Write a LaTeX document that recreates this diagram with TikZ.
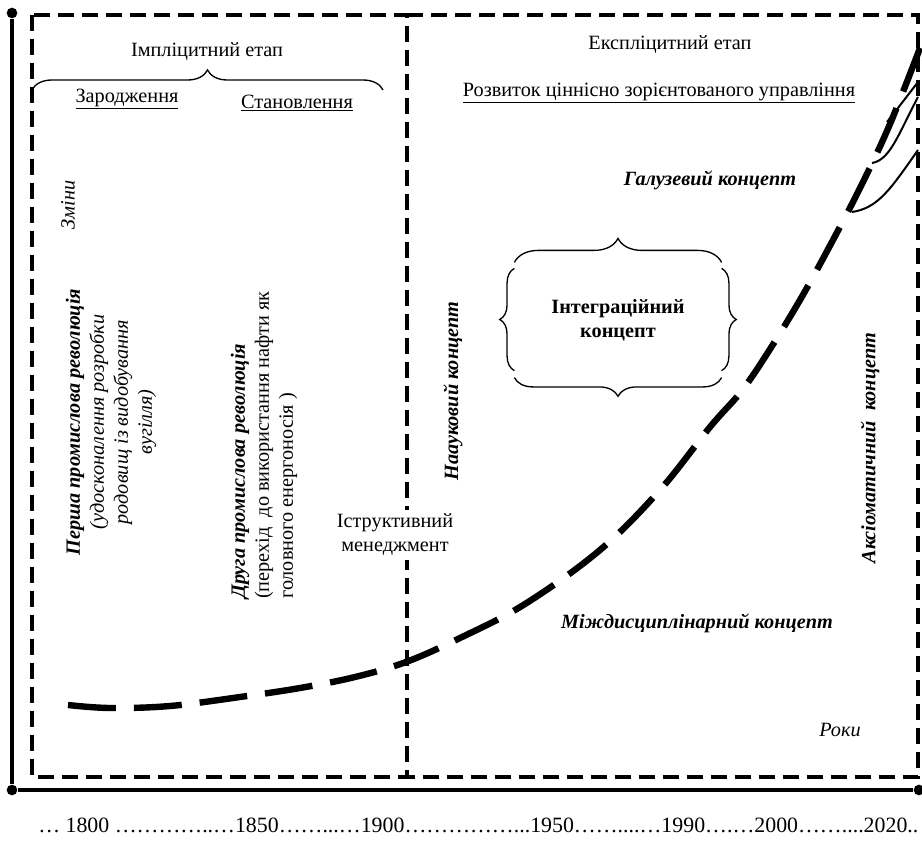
\documentclass[tikz,border=0pt]{standalone}
\usepackage{fontspec}
\setmainfont{Liberation Serif}
\usetikzlibrary{positioning,calc,decorations.pathreplacing}

\begin{document}
\begin{tikzpicture}[
    x=0.75pt, y=-0.75pt,
    font=\fontsize{15.2}{18}\selectfont,
    dot/.style={
        circle, fill=black, inner sep=0pt, minimum size=8pt
    },
    axis/.style={
        line width=3pt
    },
    stage/.style={
        line width=2.6pt, dash pattern=on 12pt off 6pt
    },
    trend/.style={
        line width=4.8pt, dash pattern=on 36pt off 13.5pt
    },
    concept/.style={
        font=\fontsize{15.2}{18}\selectfont\bfseries\itshape
    },
    note/.style={
        font=\fontsize{15.2}{18}\selectfont\itshape
    },
    curly/.style={
        decorate, decoration={brace, amplitude=#1}, line width=1pt
    },
    curly/.default=12pt,
    spur/.style={
        line width=1.5pt
    }
]
    \useasboundingbox (0,0) rectangle (922,845);

    % axes
    \node (ytop) [dot] at (12,13) {};
    \node (orig) [dot] at (12,790) {};
    \node (xend) [dot] at (919,790) {};
    \draw [axis] (ytop) -- (orig) -- (xend);

    % stages
    \draw [stage] (32,15) rectangle (407,777);
    \draw [stage] (407,15) -- (918,15) -- (918,777) -- (407,777);

    \node (impl) at (207,52) { Імпліцитний етап };
    \draw [curly=15pt] (32,90) -- (383,90);
    \node (zar) at (127,99) { \underline{Зародження} };
    \node (stan) at (297,103) { \underline{Становлення} };

    \node (expl) at (670,45) { Експліцитний етап };
    \node (rozv) at (659,93) { \underline{Розвиток ціннісно зорієнтованого управління} };

    \node (zminy) [note, rotate=90] at (68,205) { Зміни };
    \node (persha) [rotate=90, align=center] at (111,422) {
        \textbf{\textit{Перша промислова революція}}\\
        \textit{(удосконалення розробки}\\
        \textit{родовищ із видобування}\\
        \textit{вугілля)} };
    \node (druha) [rotate=90, align=left] at (264,445) {
        \textbf{\textit{Друга промислова революція}}\\
        (перехід\ \ до використання нафти як\\
        головного енергоносія ) };
    \node (istr) [fill=white, align=center] at (395,535) { Іструктивний\\менеджмент };

    \node (nauk) [concept, rotate=90] at (453,391) { Наауковий концепт };
    \node (integ) [minimum width=155pt, minimum height=86pt, align=center,
        font=\fontsize{15.2}{18}\selectfont\bfseries] at (618,320) { Інтеграційний\\концепт };
    \draw [curly=18pt] (integ.north west) -- (integ.north east);
    \draw [curly=14pt] (integ.south east) -- (integ.south west);
    \draw [curly=11pt] ($(integ.south west)+(0,-7)$) -- ($(integ.north west)+(0,6)$);
    \draw [curly=11pt] ($(integ.north east)+(0,6)$) -- ($(integ.south east)+(0,-7)$);

    \node (haluz) [concept] at (710,180) { Галузевий концепт };
    \node (aks) [concept, rotate=90] at (870,448) { Аксіоматичний\ \ концепт };
    \node (mizh) [concept] at (697,623) { Міждисциплінарний концепт };
    \node (roky) [note] at (840,730) { Роки };

    % trend
    \draw [trend] plot [smooth, tension=0.6] coordinates {
        (68,705) (110,708) (170,706) (240,697) (300,688) (355,677) (406,662)
        (460,638) (525,604) (600,550) (660,490) (710,427) (740,393) (765,357)
        (800,300) (833,240) (862,184) (890,124) (920,48) };
    \draw [spur] (852,212) .. controls (878,208) and (890,190) .. (918,150);
    \draw [spur] (872,163) .. controls (890,160) and (898,135) .. (918,97);
    \draw [spur] (887,122) .. controls (898,108) and (908,95) .. (918,82);

    \node (years) [anchor=west, inner sep=0pt, font=\fontsize{16.4}{20}\selectfont] at (38,825) {… 1800 …………..…1850……...…1900……………...1950……....…1990….…2000……....2020..};
\end{tikzpicture}
\end{document}
